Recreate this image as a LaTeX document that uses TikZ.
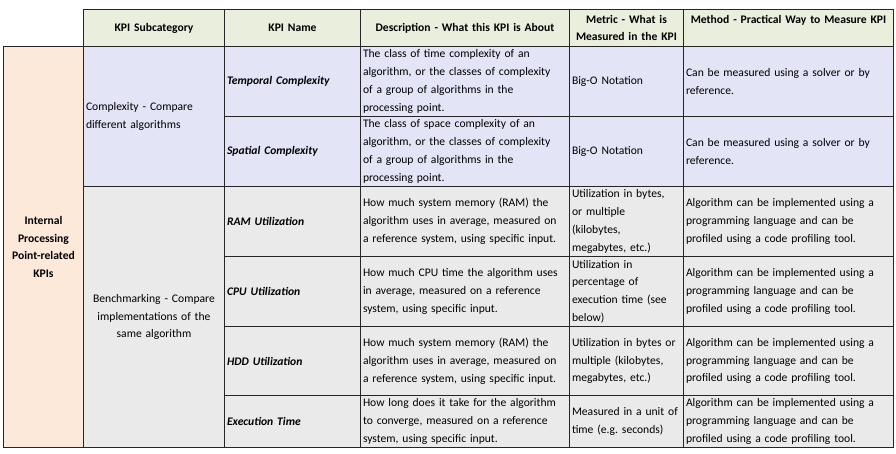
\documentclass[tikz,border=0pt]{standalone}
\usepackage{fontspec}
\setmainfont{Carlito}
\frenchspacing
\colorlet{background}{white}
\colorlet{gridColor}{black!85}
\definecolor{headColor}{HTML}{EAEEDC}
\definecolor{cplxColor}{HTML}{E3E4F5}
\definecolor{benchColor}{HTML}{EAEAEA}
\definecolor{groupColor}{HTML}{FDE9D9}
\tikzset{
	cell/.style={draw=gridColor,line width=1pt,anchor=north west,inner xsep=2.5pt,inner ysep=0pt,align=left,
		font=\fontsize{11.6}{17.8}\selectfont},
	headCell/.style={cell,fill=headColor,align=center,font=\fontsize{11.6}{17.8}\selectfont\bfseries},
	cplxCell/.style={cell,fill=cplxColor},
	benchCell/.style={cell,fill=benchColor},
	kpiName/.style={font=\fontsize{11.6}{17.8}\selectfont\bfseries\itshape}
}

\begin{document}
\begin{tikzpicture}[x=1pt,y=-1pt]
		\useasboundingbox[fill=background] (0,0) rectangle (896,454);
		
		% header row
		\node[headCell,text width=136pt,minimum height=37pt] (hdSub) at (83,9) {KPI Subcategory};
		\node[headCell,text width=131pt,minimum height=37pt] (hdName) at (224,9) {KPI Name};
		\node[headCell,text width=204pt,minimum height=37pt] (hdDesc) at (360,9) {Description - What this KPI is About};
		\node[headCell,text width=109pt,minimum height=37pt] (hdMetric) at (569,9) {Metric - What is\\Measured in the KPI};
		\node[headCell,text width=205pt,minimum height=37pt] (hdMethod) at (683,9) {Method - Practical Way to Measure KPI\\\mbox{}};
		
		% left column and subcategories
		\node[cell,fill=groupColor,text width=75pt,minimum height=401pt,align=center,font=\fontsize{11.6}{17.8}\selectfont\bfseries] (kpiGroup) at (3,46) {Internal\\Processing\\Point-related\\KPIs};
		\node[cplxCell,text width=136pt,minimum height=140pt] (subCplx) at (83,46) {Complexity - Compare\\different algorithms};
		\node[benchCell,text width=136pt,minimum height=261pt,align=center] (subBench) at (83,186) {Benchmarking - Compare\\implementations of the\\same algorithm};
		
		% complexity rows
		\node[cplxCell,kpiName,text width=131pt,minimum height=70pt] (nameTemp) at (224,46) {Temporal Complexity};
		\node[cplxCell,text width=204pt,minimum height=70pt] (descTemp) at (360,46) {The class of time complexity of an\\algorithm, or the classes of complexity\\of a group of algorithms in the\\processing point.};
		\node[cplxCell,text width=109pt,minimum height=70pt] (metricTemp) at (569,46) {Big-O Notation};
		\node[cplxCell,text width=205pt,minimum height=70pt] (methodTemp) at (683,46) {Can be measured using a solver or by\\reference.};
		
		\node[cplxCell,kpiName,text width=131pt,minimum height=70pt] (nameSpat) at (224,116) {Spatial Complexity};
		\node[cplxCell,text width=204pt,minimum height=70pt] (descSpat) at (360,116) {The class of space complexity of an\\algorithm, or the classes of complexity\\of a group of algorithms in the\\processing point.};
		\node[cplxCell,text width=109pt,minimum height=70pt] (metricSpat) at (569,116) {Big-O Notation};
		\node[cplxCell,text width=205pt,minimum height=70pt] (methodSpat) at (683,116) {Can be measured using a solver or by\\reference.};
		
		% benchmarking rows
		\node[benchCell,kpiName,text width=131pt,minimum height=70pt] (nameRam) at (224,186) {RAM Utilization};
		\node[benchCell,text width=204pt,minimum height=70pt] (descRam) at (360,186) {How much system memory (RAM) the\\algorithm uses in average, measured on\\a reference system, using specific input.};
		\node[benchCell,text width=109pt,minimum height=70pt] (metricRam) at (569,186) {Utilization in bytes,\\or multiple\\(kilobytes,\\megabytes, etc.)};
		\node[benchCell,text width=205pt,minimum height=70pt] (methodRam) at (683,186) {Algorithm can be implemented using a\\programming language and can be\\profiled using a code profiling tool.};
		
		\node[benchCell,kpiName,text width=131pt,minimum height=70pt] (nameCpu) at (224,256) {CPU Utilization};
		\node[benchCell,text width=204pt,minimum height=70pt] (descCpu) at (360,256) {How much CPU time the algorithm uses\\in average, measured on a reference\\system, using specific input.};
		\node[benchCell,text width=109pt,minimum height=70pt] (metricCpu) at (569,256) {Utilization in\\percentage of\\execution time (see\\below)};
		\node[benchCell,text width=205pt,minimum height=70pt] (methodCpu) at (683,256) {Algorithm can be implemented using a\\programming language and can be\\profiled using a code profiling tool.};
		
		\node[benchCell,kpiName,text width=131pt,minimum height=69pt] (nameHdd) at (224,326) {HDD Utilization};
		\node[benchCell,text width=204pt,minimum height=69pt] (descHdd) at (360,326) {How much system memory (RAM) the\\algorithm uses in average, measured on\\a reference system, using specific input.};
		\node[benchCell,text width=109pt,minimum height=69pt] (metricHdd) at (569,326) {Utilization in bytes or\\multiple (kilobytes,\\megabytes, etc.)};
		\node[benchCell,text width=205pt,minimum height=69pt] (methodHdd) at (683,326) {Algorithm can be implemented using a\\programming language and can be\\profiled using a code profiling tool.};
		
		\node[benchCell,kpiName,text width=131pt,minimum height=52pt] (nameExec) at (224,395) {Execution Time};
		\node[benchCell,text width=204pt,minimum height=52pt] (descExec) at (360,395) {How long does it take for the algorithm\\to converge, measured on a reference\\system, using specific input.};
		\node[benchCell,text width=109pt,minimum height=52pt] (metricExec) at (569,395) {Measured in a unit of\\time (e.g. seconds)};
		\node[benchCell,text width=205pt,minimum height=52pt] (methodExec) at (683,395) {Algorithm can be implemented using a\\programming language and can be\\profiled using a code profiling tool.};
		\end{tikzpicture}
\end{document}
